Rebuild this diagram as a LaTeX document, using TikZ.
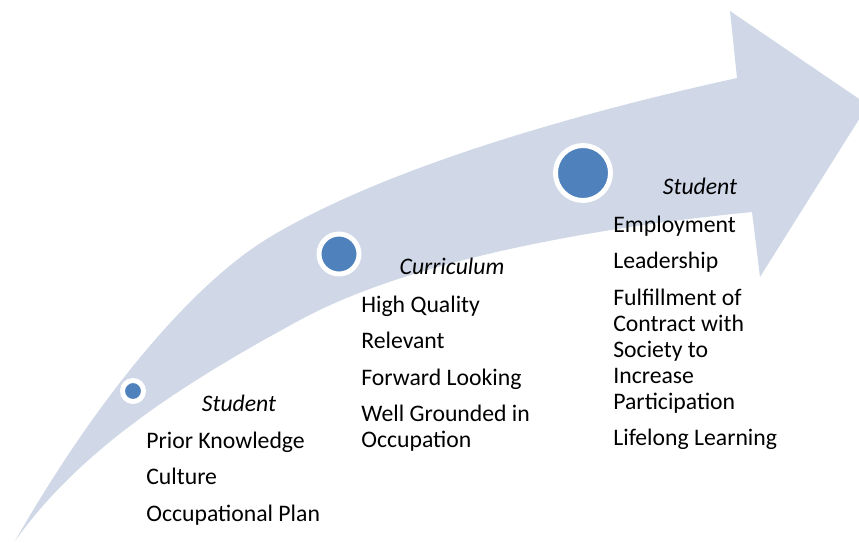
\documentclass[tikz,border=0pt]{standalone}
\usepackage{fontspec}
\setmainfont{Carlito}
\usetikzlibrary{positioning}
\definecolor{bandblue}{RGB}{208,216,232}
\definecolor{dotblue}{RGB}{79,129,189}

\begin{document}
\begin{tikzpicture}
    [
        x=0.02cm, y=-0.02cm,
        dot/.style={circle, fill=dotblue, draw=white, line width=2.8pt, inner sep=0pt},
        head/.style={font=\fontsize{13.5}{14.8}\selectfont\itshape, inner sep=0pt, anchor=base},
        items/.style={font=\fontsize{13.5}{14.8}\selectfont, align=left, inner sep=0pt, anchor=north west},
    ]

  \useasboundingbox (0,0) rectangle (859,542);
  \clip (0,0) rectangle (859,542);

  % curved arrow
  \fill[bandblue] (15,541) .. controls (95,401) and (190,285) .. (270,237)
    .. controls (370,177) and (537,122) .. (737,78) -- (730,11) -- (868,105) -- (760,277) -- (752,212)
    .. controls (620,225) and (420,255) .. (300,320)
    .. controls (180,385) and (80,450) .. cycle;

  \node[dot, minimum size=0.42cm] (dA) at (133,391) {};
  \node[dot, minimum size=0.8cm] (dB) at (339,254) {};
  \node[dot, minimum size=1.1cm] (dC) at (583,173) {};

  % first line baseline sits 18.3 below the node top
  \node[head] (stuA) at (239,411) {Student};
  \node[items] (stuAlist) at (146,429.5) {\strut Prior Knowledge\\[6pt]Culture\\[6pt]Occupational Plan};

  \node[head] (cur) at (452,274) {Curriculum};
  \node[items] (curlist) at (361,293.5) {\strut High Quality\\[6pt]Relevant\\[6pt]Forward Looking\\[6pt]Well Grounded in\\Occupation};

  \node[head] (stuB) at (700,194) {Student};
  \node[items] (stuBlist) at (613,213.5) {\strut Employment\\[6pt]Leadership\\[6pt]Fulfillment of\\Contract with\\Society to\\Increase\\Participation\\[6pt]Lifelong Learning};
\end{tikzpicture}
\end{document}
